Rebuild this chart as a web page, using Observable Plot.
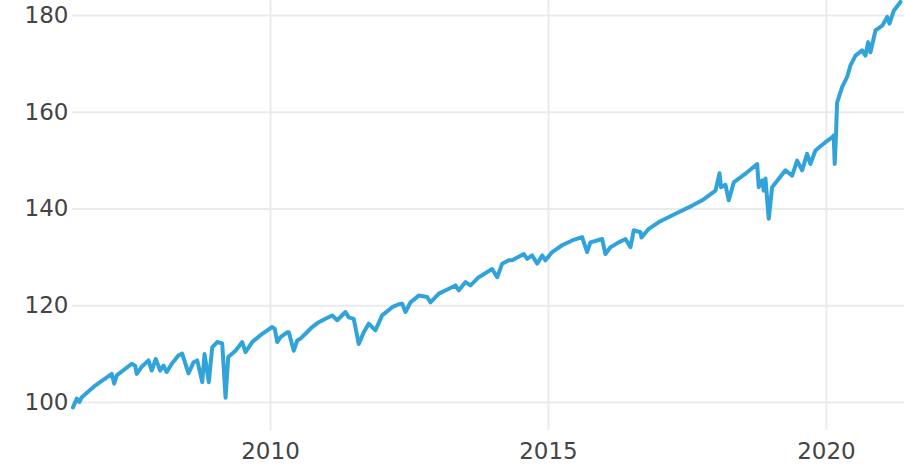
<!DOCTYPE html>
<html>
<head>
<meta charset="utf-8">
<script src="https://cdn.jsdelivr.net/npm/d3@7"></script>
<script src="https://cdn.jsdelivr.net/npm/@observablehq/plot@0.6"></script>
<style>
  html, body { margin: 0; padding: 0; background: #fff; }
  #chart svg { display: block; }
</style>
</head>
<body>
<div id="chart"></div>
<script>
// Decimal-year positions of the sampled points
const years = [
  2006.448, 2006.516, 2006.565, 2006.606, 2006.847, 2007.146, 2007.189, 2007.236,
  2007.505, 2007.567, 2007.595, 2007.685, 2007.806, 2007.865, 2007.937, 2008.016,
  2008.076, 2008.135, 2008.225, 2008.345, 2008.412, 2008.525, 2008.615, 2008.682,
  2008.772, 2008.813, 2008.890, 2008.951, 2009.041, 2009.131, 2009.191, 2009.239,
  2009.371, 2009.491, 2009.550, 2009.671, 2009.851, 2010.031, 2010.077, 2010.121,
  2010.180, 2010.300, 2010.329, 2010.419, 2010.480, 2010.540, 2010.629, 2010.750,
  2010.869, 2010.989, 2011.110, 2011.200, 2011.349, 2011.408, 2011.498, 2011.588,
  2011.678, 2011.768, 2011.888, 2012.009, 2012.189, 2012.308, 2012.369, 2012.428,
  2012.518, 2012.667, 2012.818, 2012.878, 2013.027, 2013.207, 2013.327, 2013.387,
  2013.507, 2013.597, 2013.746, 2013.987, 2014.077, 2014.167, 2014.286, 2014.347,
  2014.556, 2014.617, 2014.707, 2014.797, 2014.887, 2014.946, 2015.067, 2015.247,
  2015.426, 2015.606, 2015.696, 2015.755, 2015.966, 2016.025, 2016.115, 2016.264,
  2016.385, 2016.475, 2016.534, 2016.655, 2016.673, 2016.804, 2016.984, 2017.284,
  2017.585, 2017.764, 2018.004, 2018.076, 2018.103, 2018.183, 2018.243, 2018.333,
  2018.543, 2018.754, 2018.782, 2018.843, 2018.872, 2018.903, 2018.962, 2019.023,
  2019.263, 2019.383, 2019.473, 2019.563, 2019.653, 2019.712, 2019.802, 2019.982,
  2020.102, 2020.131, 2020.149, 2020.171, 2020.192, 2020.282, 2020.372, 2020.432,
  2020.522, 2020.642, 2020.701, 2020.750, 2020.791, 2020.881, 2021.002, 2021.092,
  2021.133, 2021.210, 2021.331
];
// Index values
const values = [
  99.0, 100.8, 100.1, 101.1, 103.5, 105.9, 103.9, 105.6,
  108.0, 107.6, 105.9, 107.4, 108.7, 106.6, 109.0, 106.6,
  107.6, 106.3, 108.0, 109.7, 110.1, 106.0, 108.3, 108.7,
  104.2, 110.0, 104.2, 111.4, 112.5, 112.2, 101.0, 109.4,
  110.7, 112.5, 110.4, 112.5, 114.2, 115.6, 115.2, 112.5,
  113.5, 114.5, 114.5, 110.7, 112.8, 113.2, 114.2, 115.6,
  116.6, 117.3, 118.0, 117.0, 118.7, 117.6, 117.3, 112.1,
  114.5, 116.3, 114.9, 118.0, 119.7, 120.3, 120.4, 118.7,
  120.7, 122.1, 121.8, 120.7, 122.5, 123.5, 124.2, 123.2,
  124.9, 124.2, 125.9, 127.6, 125.9, 128.7, 129.4, 129.4,
  130.7, 129.7, 130.4, 128.7, 130.4, 129.4, 131.1, 132.5,
  133.5, 134.2, 131.1, 133.1, 133.8, 130.7, 132.1, 133.1,
  133.8, 132.1, 135.6, 135.2, 134.1, 135.9, 137.3, 139.0,
  140.7, 141.8, 143.8, 147.4, 144.5, 145.0, 141.8, 145.5,
  147.3, 149.3, 144.5, 145.9, 143.8, 146.3, 138.0, 144.5,
  148.0, 146.9, 150.0, 148.0, 151.4, 149.3, 152.1, 153.8,
  154.8, 155.2, 149.3, 155.0, 162.0, 165.2, 167.3, 169.7,
  171.7, 172.8, 171.7, 174.5, 172.4, 176.9, 177.9, 179.7,
  178.3, 181.0, 182.8
];
const xTickYears = [2010, 2015, 2020];
const yTicks = [100, 120, 140, 160, 180];
const xDomainYears = [2006.439, 2021.403];
const yDomain = [94.21, 183.1];

function decYearToDate(y) {
  const yr = Math.floor(y);
  const start = Date.UTC(yr, 0, 1), end = Date.UTC(yr + 1, 0, 1);
  return new Date(start + (y - yr) * (end - start));
}

const data = years.map((y, i) => ({date: decYearToDate(y), value: values[i]}));
const xTicks = xTickYears.map(y => decYearToDate(y));

const chart = Plot.plot({
  width: 904,
  height: 465,
  marginLeft: 72,
  marginRight: 0,
  marginTop: 0,
  marginBottom: 35,
  style: {fontFamily: "'DejaVu Sans', Verdana, sans-serif", fontSize: "23px", color: "#444", background: "#fff"},
  x: {type: "utc", domain: xDomainYears.map(decYearToDate)},
  y: {domain: yDomain},
  marks: [
    Plot.gridY(yTicks, {stroke: "#ebebeb", strokeOpacity: 1, strokeWidth: 2}),
    Plot.gridX(xTicks, {stroke: "#ebebeb", strokeOpacity: 1, strokeWidth: 2}),
    Plot.line(data, {x: "date", y: "value", stroke: "#31a3db", strokeWidth: 4, strokeLinejoin: "round", strokeLinecap: "round"}),
    Plot.axisX(xTicks, {tickSize: 0, tickPadding: 12, tickFormat: d3.utcFormat("%Y"), fill: "#444", label: null}),
    Plot.axisY(yTicks, {tickSize: 0, tickPadding: 4, fill: "#444", label: null})
  ]
});
document.getElementById("chart").appendChild(chart);
</script>
</body>
</html>
